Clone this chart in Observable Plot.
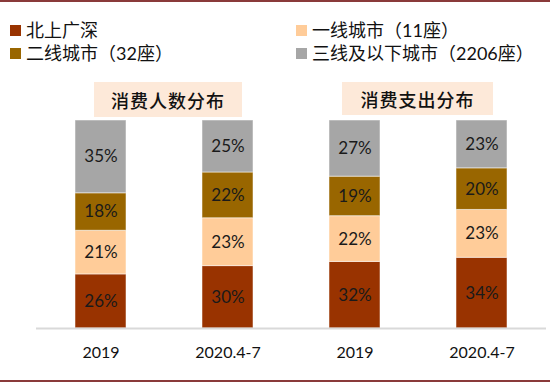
<!DOCTYPE html>
<html><head><meta charset="utf-8">
<script src="https://cdn.jsdelivr.net/npm/d3@7"></script>
<script src="https://cdn.jsdelivr.net/npm/@observablehq/plot@0.6"></script>
<style>
body{margin:0;background:#fff;}
#wrap{position:relative;width:550px;height:384px;overflow:hidden;font-family:Lato,"Noto Sans CJK SC",sans-serif;color:#111;}
#wrap svg{position:absolute;left:0;top:0;}
.line{position:absolute;left:0;width:550px;height:2px;background:#8A3A3A;}
.leg{position:absolute;display:flex;align-items:center;font-size:18px;line-height:20px;white-space:nowrap;}
.leg span.sw{display:inline-block;width:11px;height:11px;margin-right:5px;}
.ttl{position:absolute;background:#FDE9D9;font-family:"Noto Sans CJK SC",sans-serif;font-size:18px;font-weight:500;display:flex;align-items:center;justify-content:center;letter-spacing:1px;}
</style></head><body><div id="wrap"></div>
<script>
// ---- data ----
const categories = ["a2019", "a2020", "b2019", "b2020"];
const tickLabels = ["2019", "2020.4-7", "2019", "2020.4-7"];
const panels = ["消费人数分布", "消费支出分布"];
const tiers = ["北上广深", "一线城市（11座）", "二线城市（32座）", "三线及以下城市（2206座）"];
const colors = ["#993300", "#FFCC99", "#996600", "#A6A6A6"];
const tierBig4 = [26, 30, 32, 34];
const tier1 = [21, 23, 22, 23];
const tier2 = [18, 22, 19, 20];
const tier3 = [35, 25, 27, 23];

(function () {
const series = [tierBig4, tier1, tier2, tier3];
const data = [];
series.forEach((vals, ti) => vals.forEach((v, ci) => data.push({cat: categories[ci], tier: tiers[ti], value: v})));

const wrap = document.getElementById("wrap");

const chart = Plot.plot({
  width: 550,
  height: 384,
  marginTop: 120,
  marginBottom: 56,
  marginLeft: 36,
  marginRight: 4,
  style: {fontFamily: 'Lato, "Noto Sans CJK SC", sans-serif', background: "transparent"},
  x: {domain: categories, paddingInner: 0.6, paddingOuter: 0.3, label: null},
  y: {domain: [0, 100], axis: null},
  color: {domain: tiers, range: colors},
  marks: [
    Plot.barY(data, Plot.stackY({x: "cat", y: "value", fill: "tier", order: tiers, stroke: "white", strokeOpacity: 0.5, strokeWidth: 1})),
    Plot.text(data, Plot.stackY({x: "cat", y: "value", z: "tier", order: tiers, text: d => d.value + "%", fontSize: 17, fill: "#1a1a1a"})),
    Plot.ruleY([0], {stroke: "#D9D9D9", strokeWidth: 2}),
    Plot.axisX({tickSize: 0, tickPadding: 18, fontSize: 16, fill: "#111", tickFormat: (d) => tickLabels[categories.indexOf(d)]})
  ]
});
wrap.appendChild(chart);

// borders
const topLine = document.createElement("div"); topLine.className = "line"; topLine.style.top = "0px"; wrap.appendChild(topLine);
const botLine = document.createElement("div"); botLine.className = "line"; botLine.style.top = "380px"; wrap.appendChild(botLine);

// legend
const legPos = [[10, 20], [296, 20], [10, 43], [296, 43]];
tiers.forEach((t, i) => {
  const d = document.createElement("div");
  d.className = "leg";
  d.style.left = legPos[i][0] + "px";
  d.style.top = legPos[i][1] + "px";
  d.innerHTML = `<span class="sw" style="background:${colors[i]}"></span><span>${t}</span>`;
  wrap.appendChild(d);
});

// panel titles
const boxes = [[94, 82, 148, 35], [342, 82, 151, 33]];
panels.forEach((p, i) => {
  const d = document.createElement("div");
  d.className = "ttl";
  d.style.left = boxes[i][0] + "px";
  d.style.top = boxes[i][1] + "px";
  d.style.width = boxes[i][2] + "px";
  d.style.height = boxes[i][3] + "px";
  d.textContent = p;
  wrap.appendChild(d);
});
})();
</script>
</body></html>
